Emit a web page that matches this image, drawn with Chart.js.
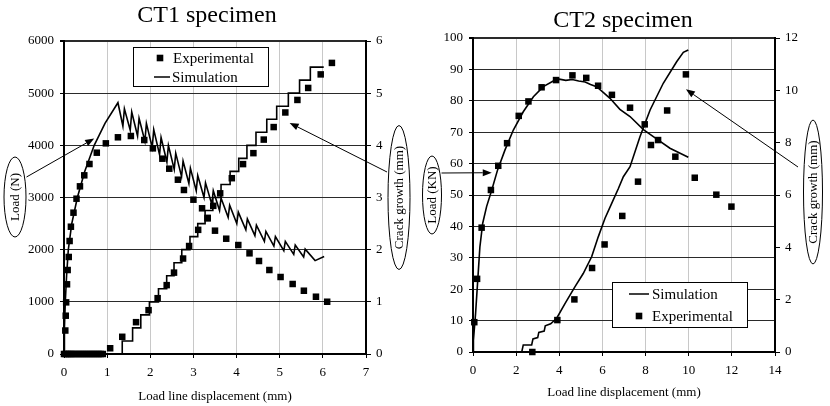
<!DOCTYPE html>
<html>
<head>
<meta charset="utf-8">
<script src="https://cdn.jsdelivr.net/npm/chart.js@4.4.0/dist/chart.umd.min.js"></script>
<style>
  html, body { margin: 0; padding: 0; background: #fff; }
  .wrap { position: absolute; top: 0; width: 415px; height: 406px; }
</style>
</head>
<body>
<div class="wrap" style="left:0"><canvas id="ct1"></canvas></div>
<div class="wrap" style="left:415px"><canvas id="ct2"></canvas></div>
<script>
// ---- CT1 specimen ----
const ct1XTicks = [0, 1, 2, 3, 4, 5, 6, 7];
const ct1LoadTicks = [0, 1000, 2000, 3000, 4000, 5000, 6000];
const ct1CrackTicks = [0, 1, 2, 3, 4, 5, 6];

const ct1LoadExpX = [0.03, 0.04, 0.05, 0.07, 0.085, 0.11, 0.13, 0.16, 0.22, 0.29, 0.37, 0.47, 0.59, 0.76, 0.97, 1.25, 1.55, 1.86, 2.06, 2.28, 2.44, 2.64, 2.78, 3.0, 3.20, 3.33, 3.50, 3.76, 4.04, 4.30, 4.52, 4.76, 5.02, 5.30, 5.56, 5.84, 6.10];
const ct1LoadExpY = [450, 734, 990, 1336, 1610, 1860, 2166, 2440, 2709, 2977, 3214, 3425, 3642, 3859, 4038, 4154, 4179, 4102, 3942, 3744, 3552, 3341, 3144, 2958, 2793, 2600, 2364, 2210, 2089, 1930, 1783, 1610, 1476, 1342, 1213, 1098, 1002];

const ct1LoadSimX = [0, 0.01, 0.03, 0.06, 0.10, 0.18, 0.31, 0.48, 0.70, 0.95, 1.25, 1.365, 1.40, 1.535, 1.57, 1.705, 1.74, 1.875, 1.91, 2.045, 2.08, 2.215, 2.25, 2.385, 2.42, 2.555, 2.59, 2.725, 2.76, 2.895, 2.93, 3.065, 3.10, 3.245, 3.28, 3.425, 3.46, 3.605, 3.64, 3.805, 3.84, 4.005, 4.04, 4.215, 4.25, 4.425, 4.46, 4.645, 4.68, 4.865, 4.90, 5.095, 5.13, 5.325, 5.36, 5.555, 5.59, 5.82, 6.03];
const ct1LoadSimY = [0, 500, 1000, 1500, 2000, 2500, 3000, 3500, 4000, 4420, 4817, 4370, 4700, 4290, 4640, 4180, 4520, 4080, 4420, 3960, 4300, 3820, 4150, 3680, 4000, 3540, 3850, 3400, 3700, 3270, 3560, 3130, 3420, 3000, 3280, 2870, 3130, 2750, 2990, 2620, 2850, 2500, 2720, 2380, 2590, 2270, 2470, 2160, 2350, 2070, 2250, 1980, 2160, 1910, 2090, 1860, 2010, 1790, 1870];

const ct1CrackExpX = [0, 0.04, 0.08, 0.12, 0.16, 0.2, 0.25, 0.3, 0.35, 0.4, 0.45, 0.5, 0.55, 0.6, 0.65, 0.7, 0.75, 0.8, 0.85, 0.9, 1.07, 1.35, 1.67, 1.96, 2.17, 2.38, 2.55, 2.76, 2.90, 3.11, 3.33, 3.46, 3.62, 3.89, 4.15, 4.39, 4.63, 4.86, 5.13, 5.41, 5.66, 5.95, 6.21];
const ct1CrackExpY = [0, 0, 0, 0, 0, 0, 0, 0, 0, 0, 0, 0, 0, 0, 0, 0, 0, 0, 0, 0, 0.11, 0.33, 0.61, 0.84, 1.07, 1.32, 1.56, 1.83, 2.07, 2.38, 2.61, 2.84, 3.08, 3.37, 3.64, 3.85, 4.11, 4.35, 4.63, 4.87, 5.10, 5.36, 5.58];

// crack simulation: value reached at each step position (drawn as steps)
const ct1CrackSimX = [0, 1.35, 1.59, 1.78, 1.98, 2.19, 2.38, 2.55, 2.73, 2.92, 3.10, 3.27, 3.45, 3.64, 3.85, 4.05, 4.24, 4.45, 4.70, 4.93, 5.20, 5.46, 5.71, 6.02];
const ct1CrackSimY = [0, 0.25, 0.5, 0.75, 1.0, 1.25, 1.5, 1.75, 2.0, 2.25, 2.5, 2.75, 3.0, 3.25, 3.5, 3.75, 4.0, 4.25, 4.5, 4.75, 5.0, 5.25, 5.5, 5.5];

// ---- CT2 specimen ----
const ct2XTicks = [0, 2, 4, 6, 8, 10, 12, 14];
const ct2LoadTicks = [0, 10, 20, 30, 40, 50, 60, 70, 80, 90, 100];
const ct2CrackTicks = [0, 2, 4, 6, 8, 10, 12];

const ct2LoadExpX = [0.06, 0.19, 0.40, 0.83, 1.17, 1.58, 2.12, 2.57, 3.18, 3.85, 4.61, 5.25, 5.80, 6.44, 7.28, 7.96, 8.58, 9.38, 10.28, 11.28, 11.98];
const ct2LoadExpY = [9.5, 23.3, 39.6, 51.6, 59.3, 66.5, 75.2, 79.8, 84.3, 86.6, 88.1, 87.3, 84.8, 81.9, 77.8, 72.5, 67.5, 62.2, 55.5, 50.1, 46.3];

const ct2LoadSimX = [0, 0.02, 0.12, 0.22, 0.32, 0.45, 0.63, 0.87, 1.14, 1.48, 1.87, 2.33, 2.80, 3.26, 3.72, 4.0, 4.3, 4.6, 4.9, 5.2, 5.45, 5.73, 6.05, 6.35, 6.81, 7.28, 7.90, 8.36, 9.13, 9.98];
const ct2LoadSimY = [0, 3.8, 12.3, 22.9, 33.5, 41.0, 46.3, 51.6, 58.0, 64.3, 70.7, 76.5, 81.3, 84.5, 86.3, 86.9, 86.5, 86.8, 86.3, 86.0, 85.2, 84.5, 82.6, 80.8, 77.3, 75.0, 70.8, 68.6, 64.9, 62.0];

const ct2CrackExpX = [2.75, 3.91, 4.70, 5.52, 6.10, 6.92, 7.65, 8.25, 9.00, 9.87];
const ct2CrackExpY = [0, 1.22, 2.01, 3.21, 4.11, 5.20, 6.51, 7.91, 9.23, 10.61];

const ct2CrackSimX = [2.26, 2.33, 2.72, 2.78, 3.0, 3.05, 3.3, 3.35, 3.6, 3.88, 4.27, 4.73, 5.11, 5.50, 5.81, 6.12, 6.43, 6.74, 6.97, 7.28, 7.74, 8.21, 8.82, 9.44, 9.75, 9.98];
const ct2CrackSimY = [0, 0.27, 0.27, 0.5, 0.55, 0.75, 0.8, 1.0, 1.08, 1.29, 1.86, 2.5, 3.0, 3.64, 4.41, 5.11, 5.68, 6.25, 6.7, 7.08, 8.23, 9.25, 10.27, 11.09, 11.45, 11.54];

const pts = (xs, ys) => xs.map((x, i) => ({ x: x, y: ys[i] }));

Chart.defaults.font.family = "'Liberation Serif', 'Times New Roman', serif";
Chart.defaults.font.size = 13;
Chart.defaults.color = '#000';

const SERIF = '"Liberation Serif", "Times New Roman", serif';

function arrow(ctx, x1, y1, x2, y2) {
    const ang = Math.atan2(y2 - y1, x2 - x1);
    const len = 9, hw = 3.5;
    const bx = x2 - len * Math.cos(ang), by = y2 - len * Math.sin(ang);
    ctx.lineWidth = 1;
    ctx.beginPath();
    ctx.moveTo(x1, y1);
    ctx.lineTo(bx, by);
    ctx.stroke();
    ctx.beginPath();
    ctx.moveTo(x2, y2);
    ctx.lineTo(bx + hw * Math.sin(ang), by - hw * Math.cos(ang));
    ctx.lineTo(bx - hw * Math.sin(ang), by + hw * Math.cos(ang));
    ctx.closePath();
    ctx.fill();
}

// titles, ellipse axis labels with arrows, and boxed legend
const decor = {
    id: 'decor',
    afterDraw(chart, args, o) {
        const ctx = chart.ctx, a = chart.chartArea;
        ctx.save();
        ctx.fillStyle = '#000';
        ctx.strokeStyle = '#000';
        ctx.textAlign = 'center';
        ctx.textBaseline = 'alphabetic';
        ctx.font = '24px ' + SERIF;
        ctx.fillText(o.title, o.titleX, o.titleY);
        ctx.font = '13px ' + SERIF;
        ctx.fillText('Load line displacement (mm)', (a.left + a.right) / 2, o.xTitleY);

        o.ellipses.forEach(e => {
            ctx.lineWidth = 1;
            ctx.beginPath();
            ctx.ellipse(e.cx, e.cy, e.rx, e.ry, 0, 0, Math.PI * 2);
            ctx.stroke();
            ctx.save();
            ctx.translate(e.cx, e.cy);
            ctx.rotate(-Math.PI / 2);
            ctx.textAlign = 'center';
            ctx.textBaseline = 'middle';
            ctx.font = '13px ' + SERIF;
            ctx.fillText(e.text, 0, 1);
            ctx.restore();
            const tx = chart.scales.x.getPixelForValue(e.tip[0]);
            const ty = chart.scales[e.axis].getPixelForValue(e.tip[1]);
            arrow(ctx, e.from[0], e.from[1], tx, ty);
        });

        const L = o.legend;
        ctx.fillStyle = '#fff';
        ctx.fillRect(L.x, L.y, L.w, L.h);
        ctx.lineWidth = 1;
        ctx.strokeRect(L.x + 0.5, L.y + 0.5, L.w, L.h);
        ctx.fillStyle = '#000';
        ctx.font = '15px ' + SERIF;
        ctx.textAlign = 'left';
        ctx.textBaseline = 'middle';
        L.rows.forEach(r => {
            if (r.kind === 'pt') {
                ctx.fillRect(r.sx - 3.3, r.y - 3.3, 6.6, 6.6);
            } else {
                ctx.lineWidth = 1.5;
                ctx.beginPath();
                ctx.moveTo(r.x1, r.y);
                ctx.lineTo(r.x2, r.y);
                ctx.stroke();
            }
            ctx.fillText(r.text, r.tx, r.y + 1);
        });
        ctx.restore();
    }
};

const plain = v => String(v);

function axes(xTicks, loadTicks, crackTicks, wLeft, wRight, hBottom) {
    const lastLoad = loadTicks[loadTicks.length - 1];
    return {
        x: {
            type: 'linear',
            min: xTicks[0], max: xTicks[xTicks.length - 1],
            afterBuildTicks: s => { s.ticks = xTicks.map(v => ({ value: v })); },
            ticks: { padding: 7, callback: plain },
            grid: { color: '#c8c8c8', lineWidth: 1, tickColor: '#000', tickLength: 4 },
            border: { color: '#000', width: 2 },
            afterFit: s => { s.height = hBottom; }
        },
        y: {
            position: 'left',
            min: loadTicks[0], max: lastLoad,
            afterBuildTicks: s => { s.ticks = loadTicks.map(v => ({ value: v })); },
            ticks: { padding: 6, callback: plain },
            grid: {
                color: '#2a2a2a',
                lineWidth: c => (c.tick && c.tick.value === lastLoad ? 2 : 1),
                tickColor: '#000', tickLength: 4
            },
            border: { color: '#000', width: 2 },
            afterFit: s => { s.width = wLeft; }
        },
        y2: {
            position: 'right',
            min: crackTicks[0], max: crackTicks[crackTicks.length - 1],
            afterBuildTicks: s => { s.ticks = crackTicks.map(v => ({ value: v })); },
            ticks: { padding: 5, callback: plain },
            grid: { drawOnChartArea: false, tickColor: '#000', tickLength: 5 },
            border: { color: '#000', width: 2 },
            afterFit: s => { s.width = wRight; }
        }
    };
}

const expStyle = {
    showLine: false, pointStyle: 'rect', pointRadius: 4.6,
    backgroundColor: '#000', borderColor: '#000', borderWidth: 0, clip: false
};
const simStyle = {
    showLine: true, pointRadius: 0, borderColor: '#000', borderWidth: 1.6, fill: false
};

new Chart(document.getElementById('ct1'), {
    type: 'scatter',
    data: {
        datasets: [
            Object.assign({ label: 'Simulation', data: pts(ct1LoadSimX, ct1LoadSimY), yAxisID: 'y' }, simStyle),
            Object.assign({ label: 'Simulation crack', data: pts(ct1CrackSimX, ct1CrackSimY), yAxisID: 'y2', stepped: 'before' }, simStyle),
            Object.assign({ label: 'Experimental', data: pts(ct1LoadExpX, ct1LoadExpY), yAxisID: 'y' }, expStyle),
            Object.assign({ label: 'Experimental crack', data: pts(ct1CrackExpX, ct1CrackExpY), yAxisID: 'y2' }, expStyle)
        ]
    },
    options: {
        responsive: true, maintainAspectRatio: false, animation: false, events: [],
        layout: { padding: { top: 41, left: 0, right: 0, bottom: 0 } },
        scales: axes(ct1XTicks, ct1LoadTicks, ct1CrackTicks, 64, 49, 52),
        plugins: {
            legend: { display: false }, tooltip: { enabled: false },
            decor: {
                title: 'CT1 specimen', titleX: 207, titleY: 22, xTitleY: 400,
                ellipses: [
                    { cx: 15, cy: 197, rx: 11, ry: 40, text: 'Load (N)', from: [26.5, 177], tip: [0.70, 4130], axis: 'y' },
                    { cx: 399, cy: 197.5, rx: 11, ry: 72, text: 'Crack growth (mm)', from: [387, 172], tip: [5.23, 4.43], axis: 'y2' }
                ],
                legend: {
                    x: 133, y: 47, w: 135, h: 39,
                    rows: [
                        { kind: 'pt', y: 58, sx: 160, tx: 173, text: 'Experimental' },
                        { kind: 'line', y: 77, x1: 154, x2: 170, tx: 172, text: 'Simulation' }
                    ]
                }
            }
        }
    },
    plugins: [decor]
});

new Chart(document.getElementById('ct2'), {
    type: 'scatter',
    data: {
        datasets: [
            Object.assign({ label: 'Simulation', data: pts(ct2LoadSimX, ct2LoadSimY), yAxisID: 'y' }, simStyle),
            Object.assign({ label: 'Simulation crack', data: pts(ct2CrackSimX, ct2CrackSimY), yAxisID: 'y2' }, simStyle),
            Object.assign({ label: 'Experimental', data: pts(ct2LoadExpX, ct2LoadExpY), yAxisID: 'y' }, expStyle),
            Object.assign({ label: 'Experimental crack', data: pts(ct2CrackExpX, ct2CrackExpY), yAxisID: 'y2' }, expStyle)
        ]
    },
    options: {
        responsive: true, maintainAspectRatio: false, animation: false, events: [],
        layout: { padding: { top: 38, left: 0, right: 0, bottom: 0 } },
        scales: axes(ct2XTicks, ct2LoadTicks, ct2CrackTicks, 58, 55, 54),
        plugins: {
            legend: { display: false }, tooltip: { enabled: false },
            decor: {
                title: 'CT2 specimen', titleX: 208, titleY: 27, xTitleY: 396,
                ellipses: [
                    { cx: 17, cy: 195, rx: 9.5, ry: 39, text: 'Load (KN)', from: [26.5, 173], tip: [0.87, 57.1], axis: 'y' },
                    { cx: 398, cy: 192, rx: 9.5, ry: 72, text: 'Crack growth (mm)', from: [383, 167], tip: [9.87, 10.04], axis: 'y2' }
                ],
                legend: {
                    x: 197, y: 282, w: 135, h: 45,
                    rows: [
                        { kind: 'line', y: 294, x1: 214, x2: 234, tx: 237, text: 'Simulation' },
                        { kind: 'pt', y: 316, sx: 224, tx: 237, text: 'Experimental' }
                    ]
                }
            }
        }
    },
    plugins: [decor]
});
</script>
</body>
</html>
